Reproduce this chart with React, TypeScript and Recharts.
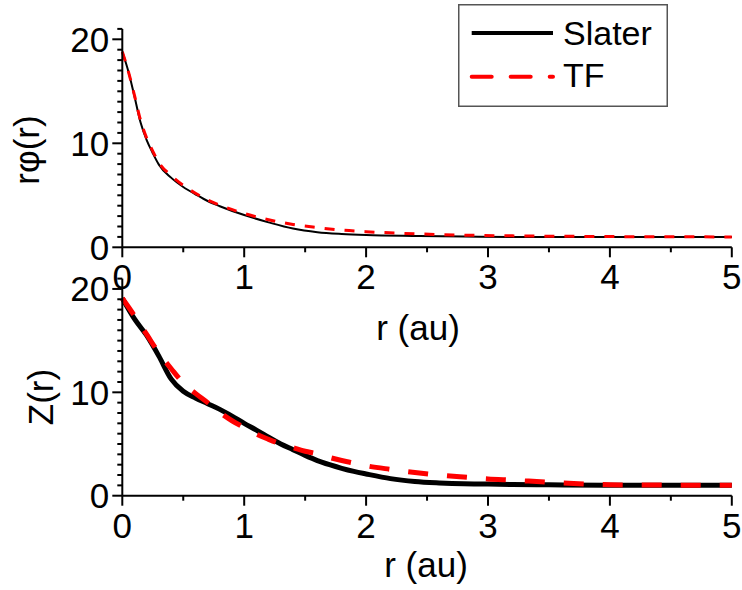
import React from 'react';
import { LineChart, Line, XAxis, YAxis, Legend } from 'recharts';

// ---- Data ----
const rTop = [0, 0.05, 0.1, 0.15, 0.2, 0.25, 0.3, 0.4, 0.5, 0.6, 0.7, 0.8, 1.0, 1.2, 1.4, 1.6, 1.8, 2.0, 2.4, 2.8, 3.2, 3.6, 4.0, 4.5, 5.0];
const slaterTop = [18.8, 16.9, 14.5, 12.0, 10.3, 9.05, 7.95, 6.7, 5.8, 5.1, 4.45, 3.95, 3.1, 2.4, 1.8, 1.45, 1.28, 1.18, 1.09, 1.03, 1.0, 1.0, 1.0, 1.0, 1.0];
const tfTop = [18.8, 16.9, 14.6, 12.2, 10.5, 9.25, 8.15, 6.9, 5.95, 5.2, 4.55, 4.05, 3.25, 2.65, 2.2, 1.9, 1.65, 1.5, 1.3, 1.17, 1.1, 1.06, 1.03, 1.01, 1.0];

const rBottom = [0, 0.1, 0.2, 0.3, 0.4, 0.5, 0.6, 0.7, 0.8, 0.9, 1.0, 1.1, 1.2, 1.3, 1.4, 1.5, 1.6, 1.7, 1.8, 1.9, 2.0, 2.2, 2.4, 2.6, 2.8, 3.0, 3.2, 3.5, 4.0, 4.5, 5.0];
const slaterBottom = [19.1, 17.1, 15.5, 13.5, 11.3, 10.1, 9.45, 8.9, 8.35, 7.7, 7.0, 6.35, 5.65, 5.0, 4.45, 3.9, 3.4, 3.0, 2.65, 2.35, 2.1, 1.65, 1.38, 1.24, 1.15, 1.12, 1.08, 1.05, 1.0, 1.0, 1.0];
const tfBottom = [19.1, 17.4, 15.6, 13.8, 12.3, 10.9, 9.9, 9.0, 8.05, 7.25, 6.6, 5.95, 5.45, 5.0, 4.65, 4.3, 4.05, 3.7, 3.4, 3.15, 2.9, 2.55, 2.25, 2.0, 1.8, 1.62, 1.5, 1.3, 1.06, 1.02, 1.0];

const xTicks = [0, 0.5, 1, 1.5, 2, 2.5, 3, 3.5, 4, 4.5, 5];
const yTicks = [0, 1, 2, 3, 4, 5, 6, 7, 8, 9, 10, 11, 12, 13, 14, 15, 16, 17, 18, 19, 20, 21];
const seriesNames = ['Slater', 'TF'];

const topData = rTop.map((r, i) => ({ r, Slater: slaterTop[i], TF: tfTop[i] }));
const bottomData = rBottom.map((r, i) => ({ r, Slater: slaterBottom[i], TF: tfBottom[i] }));

const FONT = '"Liberation Sans", Arial, Helvetica, sans-serif';
const TICK_FS = 35;
const LABEL_FS = 35;

const XTick = (props: any) => {
  const { x, y, payload } = props;
  const v = payload.value;
  const major = Math.abs(v - Math.round(v)) < 1e-6;
  return (
    <g>
      <line x1={x} y1={y} x2={x} y2={y + (major ? 10 : 5)} stroke="#000" strokeWidth={2} />
      {major && (
        <text x={x} y={y + 42} textAnchor="middle" fontSize={TICK_FS} fontFamily={FONT} fill="#000">
          {v}
        </text>
      )}
    </g>
  );
};

const YTick = (props: any) => {
  const { x, y, payload } = props;
  const v = payload.value;
  const major = v % 10 === 0;
  return (
    <g>
      <line x1={x - (major ? 10 : 5)} y1={y} x2={x} y2={y} stroke="#000" strokeWidth={2} />
      {major && (
        <text x={x - 13} y={y + 12.5} textAnchor="end" fontSize={TICK_FS} fontFamily={FONT} fill="#000">
          {v}
        </text>
      )}
    </g>
  );
};

const legendStyles: Record<string, { stroke: string; dash?: string }> = {
  Slater: { stroke: '#000' },
  TF: { stroke: '#ff0000', dash: '20 19' },
};

const renderLegend = (props: any) => {
  const payload = (props.payload && props.payload.length ? props.payload.map((p: any) => p.value) : seriesNames) as string[];
  return (
    <svg width={210} height={103} style={{ display: 'block' }}>
      <rect x={0.75} y={0.75} width={208.5} height={101.5} fill="#fff" stroke="#555" strokeWidth={1.5} />
      {payload.map((name, i) => {
        const st = legendStyles[name] || { stroke: '#000' };
        const ly = i === 0 ? 29 : 72.7;
        return (
          <g key={name}>
            <line
              x1={13.7}
              y1={ly}
              x2={95}
              y2={ly}
              stroke={st.stroke}
              strokeWidth={4}
              strokeDasharray={st.dash}
              strokeLinecap={st.dash ? 'round' : 'butt'}
            />
            <text x={105} y={i === 0 ? 41 : 83.3} fontSize={34} fontFamily={FONT} fill="#000">
              {name}
            </text>
          </g>
        );
      })}
    </svg>
  );
};

export default function App() {
  return (
    <div style={{ position: 'absolute', left: 0, top: 0, width: 742, height: 590, background: '#fff' }}>
      {/* Top panel */}
      <div style={{ position: 'absolute', left: 0, top: 0 }}>
        <LineChart width={742} height={360} data={topData} margin={{ top: 28.9, right: 10.2, left: 0, bottom: 0 }}>
          <XAxis
            dataKey="r"
            type="number"
            domain={[0, 5]}
            ticks={xTicks}
            interval={0}
            height={112.7}
            tickSize={0}
            tickMargin={0}
            tickLine={false}
            axisLine={{ stroke: '#000', strokeWidth: 2 }}
            tick={<XTick />}
            label={{
              content: () => (
                <text x={418} y={340} textAnchor="middle" fontSize={LABEL_FS} fontFamily={FONT} fill="#000">
                  r (au)
                </text>
              ),
            }}
          />
          <YAxis
            type="number"
            domain={[0, 21]}
            ticks={yTicks}
            interval={0}
            width={122.3}
            tickSize={0}
            tickMargin={0}
            tickLine={false}
            axisLine={{ stroke: '#000', strokeWidth: 2 }}
            tick={<YTick />}
            label={{
              content: () => (
                <text
                  x={26}
                  y={150}
                  transform="rotate(-90, 26, 150)"
                  textAnchor="middle"
                  dominantBaseline="central"
                  fontSize={LABEL_FS}
                  fontFamily={FONT}
                  fill="#000"
                >
                  rφ(r)
                </text>
              ),
            }}
          />
          <Legend
            layout="horizontal"
            verticalAlign="middle"
            align="center"
            content={renderLegend}
            wrapperStyle={{ position: 'absolute', left: 458, top: 4, width: 210, height: 103 }}
          />
          <Line type="monotone" dataKey="Slater" name="Slater" stroke="#000" strokeWidth={2} dot={false} isAnimationActive={false} />
          <Line
            type="monotone"
            dataKey="TF"
            name="TF"
            stroke="#ff0000"
            strokeWidth={3}
            strokeDasharray="10 10"
            dot={false}
            isAnimationActive={false}
          />
        </LineChart>
      </div>
      {/* Bottom panel */}
      <div style={{ position: 'absolute', left: 0, top: 0 }}>
        <LineChart width={742} height={590} data={bottomData} margin={{ top: 278.6, right: 10.2, left: 0, bottom: 0 }}>
          <XAxis
            dataKey="r"
            type="number"
            domain={[0, 5]}
            ticks={xTicks}
            interval={0}
            height={94.3}
            tickSize={0}
            tickMargin={0}
            tickLine={false}
            axisLine={{ stroke: '#000', strokeWidth: 2 }}
            tick={<XTick />}
            label={{
              content: () => (
                <text x={426} y={577} textAnchor="middle" fontSize={LABEL_FS} fontFamily={FONT} fill="#000">
                  r (au)
                </text>
              ),
            }}
          />
          <YAxis
            type="number"
            domain={[0, 21]}
            ticks={yTicks}
            interval={0}
            width={122.3}
            tickSize={0}
            tickMargin={0}
            tickLine={false}
            axisLine={{ stroke: '#000', strokeWidth: 2 }}
            tick={<YTick />}
            label={{
              content: () => (
                <text
                  x={40}
                  y={397}
                  transform="rotate(-90, 40, 397)"
                  textAnchor="middle"
                  dominantBaseline="central"
                  fontSize={LABEL_FS}
                  fontFamily={FONT}
                  fill="#000"
                >
                  Z(r)
                </text>
              ),
            }}
          />
          <Line type="monotone" dataKey="Slater" name="Slater" stroke="#000" strokeWidth={5} dot={false} isAnimationActive={false} />
          <Line
            type="monotone"
            dataKey="TF"
            name="TF"
            stroke="#ff0000"
            strokeWidth={5}
            strokeDasharray="20 19"
            dot={false}
            isAnimationActive={false}
          />
        </LineChart>
      </div>
    </div>
  );
}
